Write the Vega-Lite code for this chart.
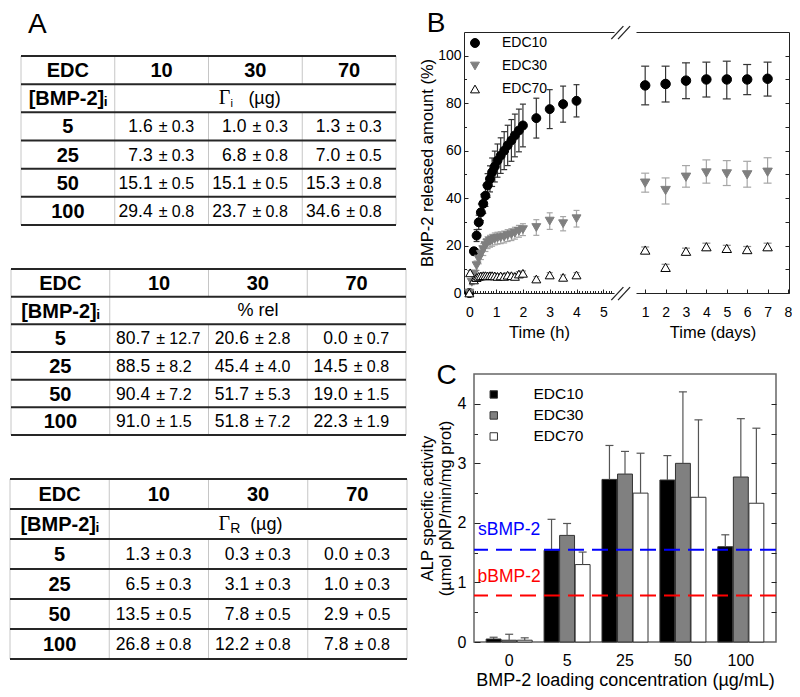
{
  "$schema": "https://vega.github.io/schema/vega-lite/v6.json",
  "background": "white",
  "padding": {"left": 9, "top": 10, "right": 0, "bottom": 0},
  "config": {
    "font": "Liberation Sans",
    "view": {"stroke": null},
    "axis": {"grid": false, "labelColor": "#000", "titleColor": "#000", "titleFontWeight": "normal", "domainColor": "#222", "tickColor": "#222", "labelFont": "Liberation Sans", "titleFont": "Liberation Sans"},
    "title": {"fontWeight": "normal", "color": "#000", "font": "Liberation Sans"},
    "text": {"color": "#000"}
  },
  "datasets": {
    "hgrid": [{"y": 0}, {"y": 1}, {"y": 2}, {"y": 3}, {"y": 4}, {"y": 5}, {"y": 6}],
    "vgrid": [{"x": 0, "y": 0, "y2": 6}, {"x": 1, "y": 0, "y2": 6}, {"x": 2, "y": 0, "y2": 1}, {"x": 2, "y": 2, "y2": 6}, {"x": 3, "y": 0, "y2": 1}, {"x": 3, "y": 2, "y2": 6}, {"x": 4, "y": 0, "y2": 6}],
    "tlab": [
      {"c": 0.5, "r": 0.5, "s": "EDC"}, {"c": 1.5, "r": 0.5, "s": "10"}, {"c": 2.5, "r": 0.5, "s": "30"}, {"c": 3.5, "r": 0.5, "s": "70"},
      {"c": 0.5, "r": 1.5, "s": "[BMP-2]ᵢ"}, {"c": 0.5, "r": 2.5, "s": "5"}, {"c": 0.5, "r": 3.5, "s": "25"}, {"c": 0.5, "r": 4.5, "s": "50"}, {"c": 0.5, "r": 5.5, "s": "100"}
    ],
    "tv1": [
      {"c": 1.5, "r": 2.5, "v": "1.6", "e": "± 0.3"}, {"c": 2.5, "r": 2.5, "v": "1.0", "e": "± 0.3"}, {"c": 3.5, "r": 2.5, "v": "1.3", "e": "± 0.3"},
      {"c": 1.5, "r": 3.5, "v": "7.3", "e": "± 0.3"}, {"c": 2.5, "r": 3.5, "v": "6.8", "e": "± 0.8"}, {"c": 3.5, "r": 3.5, "v": "7.0", "e": "± 0.5"},
      {"c": 1.5, "r": 4.5, "v": "15.1", "e": "± 0.5"}, {"c": 2.5, "r": 4.5, "v": "15.1", "e": "± 0.5"}, {"c": 3.5, "r": 4.5, "v": "15.3", "e": "± 0.8"},
      {"c": 1.5, "r": 5.5, "v": "29.4", "e": "± 0.8"}, {"c": 2.5, "r": 5.5, "v": "23.7", "e": "± 0.8"}, {"c": 3.5, "r": 5.5, "v": "34.6", "e": "± 0.8"}
    ],
    "tv2": [
      {"c": 1.5, "r": 2.5, "v": "80.7", "e": "± 12.7"}, {"c": 2.5, "r": 2.5, "v": "20.6", "e": "± 2.8"}, {"c": 3.5, "r": 2.5, "v": "0.0", "e": "± 0.7"},
      {"c": 1.5, "r": 3.5, "v": "88.5", "e": "± 8.2"}, {"c": 2.5, "r": 3.5, "v": "45.4", "e": "± 4.0"}, {"c": 3.5, "r": 3.5, "v": "14.5", "e": "± 0.8"},
      {"c": 1.5, "r": 4.5, "v": "90.4", "e": "± 7.2"}, {"c": 2.5, "r": 4.5, "v": "51.7", "e": "± 5.3"}, {"c": 3.5, "r": 4.5, "v": "19.0", "e": "± 1.5"},
      {"c": 1.5, "r": 5.5, "v": "91.0", "e": "± 1.5"}, {"c": 2.5, "r": 5.5, "v": "51.8", "e": "± 7.2"}, {"c": 3.5, "r": 5.5, "v": "22.3", "e": "± 1.9"}
    ],
    "tv3": [
      {"c": 1.5, "r": 2.5, "v": "1.3", "e": "± 0.3"}, {"c": 2.5, "r": 2.5, "v": "0.3", "e": "± 0.3"}, {"c": 3.5, "r": 2.5, "v": "0.0", "e": "± 0.3"},
      {"c": 1.5, "r": 3.5, "v": "6.5", "e": "± 0.3"}, {"c": 2.5, "r": 3.5, "v": "3.1", "e": "± 0.3"}, {"c": 3.5, "r": 3.5, "v": "1.0", "e": "± 0.3"},
      {"c": 1.5, "r": 4.5, "v": "13.5", "e": "± 0.5"}, {"c": 2.5, "r": 4.5, "v": "7.8", "e": "± 0.5"}, {"c": 3.5, "r": 4.5, "v": "2.9", "e": "+ 0.5"},
      {"c": 1.5, "r": 5.5, "v": "26.8", "e": "± 0.8"}, {"c": 2.5, "r": 5.5, "v": "12.2", "e": "± 0.8"}, {"c": 3.5, "r": 5.5, "v": "7.8", "e": "± 0.8"}
    ],
    "bh": [
      {"t": 0, "s": "EDC10", "v": 0, "lo": 0, "hi": 0},
      {"t": 0.17, "s": "EDC10", "v": 17.6, "lo": 16.1, "hi": 19.1},
      {"t": 0.27, "s": "EDC10", "v": 24.2, "lo": 21.7, "hi": 26.7},
      {"t": 0.35, "s": "EDC10", "v": 29.8, "lo": 26.8, "hi": 32.8},
      {"t": 0.43, "s": "EDC10", "v": 34.0, "lo": 30.5, "hi": 37.5},
      {"t": 0.52, "s": "EDC10", "v": 37.6, "lo": 33.6, "hi": 41.6},
      {"t": 0.6, "s": "EDC10", "v": 41.0, "lo": 36.5, "hi": 45.5},
      {"t": 0.68, "s": "EDC10", "v": 45.3, "lo": 40.3, "hi": 50.3},
      {"t": 0.77, "s": "EDC10", "v": 48.1, "lo": 42.6, "hi": 53.6},
      {"t": 0.85, "s": "EDC10", "v": 50.9, "lo": 44.9, "hi": 56.9},
      {"t": 0.95, "s": "EDC10", "v": 53.3, "lo": 46.8, "hi": 59.8},
      {"t": 1.05, "s": "EDC10", "v": 55.8, "lo": 48.8, "hi": 62.8},
      {"t": 1.17, "s": "EDC10", "v": 57.9, "lo": 50.4, "hi": 65.4},
      {"t": 1.3, "s": "EDC10", "v": 60.0, "lo": 52.0, "hi": 68.0},
      {"t": 1.43, "s": "EDC10", "v": 62.2, "lo": 53.7, "hi": 70.7},
      {"t": 1.57, "s": "EDC10", "v": 64.3, "lo": 55.5, "hi": 73.1},
      {"t": 1.7, "s": "EDC10", "v": 66.4, "lo": 57.4, "hi": 75.4},
      {"t": 1.85, "s": "EDC10", "v": 68.5, "lo": 59.5, "hi": 77.5},
      {"t": 2.0, "s": "EDC10", "v": 70.6, "lo": 61.6, "hi": 79.6},
      {"t": 2.5, "s": "EDC10", "v": 73.7, "lo": 65.3, "hi": 82.1},
      {"t": 3.0, "s": "EDC10", "v": 77.5, "lo": 69.3, "hi": 85.7},
      {"t": 3.5, "s": "EDC10", "v": 79.6, "lo": 72.0, "hi": 87.2},
      {"t": 4.0, "s": "EDC10", "v": 81.0, "lo": 74.2, "hi": 87.8},
      {"t": 0, "s": "EDC30", "v": 0, "lo": 0, "hi": 0},
      {"t": 0.09, "s": "EDC30", "v": 4.5, "lo": 3.5, "hi": 5.5},
      {"t": 0.17, "s": "EDC30", "v": 8.0, "lo": 6.5, "hi": 9.5},
      {"t": 0.27, "s": "EDC30", "v": 11.5, "lo": 9.5, "hi": 13.5},
      {"t": 0.35, "s": "EDC30", "v": 14.3, "lo": 12.3, "hi": 16.3},
      {"t": 0.43, "s": "EDC30", "v": 16.3, "lo": 14.1, "hi": 18.5},
      {"t": 0.52, "s": "EDC30", "v": 18.3, "lo": 15.8, "hi": 20.8},
      {"t": 0.6, "s": "EDC30", "v": 20.0, "lo": 17.5, "hi": 22.5},
      {"t": 0.68, "s": "EDC30", "v": 21.2, "lo": 18.7, "hi": 23.7},
      {"t": 0.77, "s": "EDC30", "v": 21.8, "lo": 19.3, "hi": 24.3},
      {"t": 0.85, "s": "EDC30", "v": 22.2, "lo": 19.7, "hi": 24.7},
      {"t": 0.95, "s": "EDC30", "v": 22.8, "lo": 20.3, "hi": 25.3},
      {"t": 1.05, "s": "EDC30", "v": 23.1, "lo": 20.6, "hi": 25.6},
      {"t": 1.17, "s": "EDC30", "v": 23.3, "lo": 20.8, "hi": 25.8},
      {"t": 1.3, "s": "EDC30", "v": 23.6, "lo": 21.1, "hi": 26.1},
      {"t": 1.43, "s": "EDC30", "v": 24.2, "lo": 21.7, "hi": 26.7},
      {"t": 1.57, "s": "EDC30", "v": 24.6, "lo": 22.1, "hi": 27.1},
      {"t": 1.7, "s": "EDC30", "v": 25.2, "lo": 22.7, "hi": 27.7},
      {"t": 1.85, "s": "EDC30", "v": 26.0, "lo": 23.5, "hi": 28.5},
      {"t": 2.0, "s": "EDC30", "v": 26.7, "lo": 24.2, "hi": 29.2},
      {"t": 2.5, "s": "EDC30", "v": 27.6, "lo": 24.3, "hi": 30.9},
      {"t": 3.0, "s": "EDC30", "v": 30.3, "lo": 26.8, "hi": 33.8},
      {"t": 3.5, "s": "EDC30", "v": 29.2, "lo": 26.2, "hi": 32.2},
      {"t": 4.0, "s": "EDC30", "v": 31.3, "lo": 27.8, "hi": 34.8},
      {"t": 0, "s": "EDC70", "v": 0, "lo": 0, "hi": 0},
      {"t": 0.03, "s": "EDC70", "v": 8.5, "lo": 7.5, "hi": 9.5},
      {"t": 0.17, "s": "EDC70", "v": 5.5, "lo": 4.5, "hi": 6.5},
      {"t": 0.27, "s": "EDC70", "v": 6.5, "lo": 5.5, "hi": 7.5},
      {"t": 0.35, "s": "EDC70", "v": 7.0, "lo": 6.0, "hi": 8.0},
      {"t": 0.43, "s": "EDC70", "v": 7.2, "lo": 6.2, "hi": 8.2},
      {"t": 0.52, "s": "EDC70", "v": 7.3, "lo": 6.3, "hi": 8.3},
      {"t": 0.6, "s": "EDC70", "v": 7.3, "lo": 6.3, "hi": 8.3},
      {"t": 0.68, "s": "EDC70", "v": 7.2, "lo": 6.2, "hi": 8.2},
      {"t": 0.77, "s": "EDC70", "v": 7.3, "lo": 6.3, "hi": 8.3},
      {"t": 0.85, "s": "EDC70", "v": 7.3, "lo": 6.3, "hi": 8.3},
      {"t": 0.95, "s": "EDC70", "v": 7.2, "lo": 6.2, "hi": 8.2},
      {"t": 1.05, "s": "EDC70", "v": 7.0, "lo": 6.0, "hi": 8.0},
      {"t": 1.17, "s": "EDC70", "v": 7.2, "lo": 6.2, "hi": 8.2},
      {"t": 1.3, "s": "EDC70", "v": 7.0, "lo": 6.0, "hi": 8.0},
      {"t": 1.43, "s": "EDC70", "v": 7.5, "lo": 6.5, "hi": 8.5},
      {"t": 1.57, "s": "EDC70", "v": 7.3, "lo": 6.3, "hi": 8.3},
      {"t": 1.7, "s": "EDC70", "v": 7.0, "lo": 6.0, "hi": 8.0},
      {"t": 1.85, "s": "EDC70", "v": 8.0, "lo": 7.0, "hi": 9.0},
      {"t": 2.0, "s": "EDC70", "v": 8.3, "lo": 7.3, "hi": 9.3},
      {"t": 2.5, "s": "EDC70", "v": 5.9, "lo": 4.9, "hi": 6.9},
      {"t": 3.0, "s": "EDC70", "v": 7.6, "lo": 6.6, "hi": 8.6},
      {"t": 3.5, "s": "EDC70", "v": 6.6, "lo": 5.6, "hi": 7.6},
      {"t": 4.0, "s": "EDC70", "v": 7.6, "lo": 6.6, "hi": 8.6}
    ],
    "bd": [
      {"d": 1, "s": "EDC10", "v": 87.5, "lo": 79.3, "hi": 95.6},
      {"d": 2, "s": "EDC10", "v": 88.1, "lo": 80.5, "hi": 95.6},
      {"d": 3, "s": "EDC10", "v": 89.5, "lo": 81.9, "hi": 97.0},
      {"d": 4, "s": "EDC10", "v": 90.0, "lo": 82.6, "hi": 97.3},
      {"d": 5, "s": "EDC10", "v": 90.0, "lo": 81.8, "hi": 97.7},
      {"d": 6, "s": "EDC10", "v": 90.0, "lo": 83.6, "hi": 96.3},
      {"d": 7, "s": "EDC10", "v": 90.3, "lo": 83.0, "hi": 97.3},
      {"d": 1, "s": "EDC30", "v": 46.3, "lo": 42.5, "hi": 50.5},
      {"d": 2, "s": "EDC30", "v": 43.2, "lo": 37.5, "hi": 48.5},
      {"d": 3, "s": "EDC30", "v": 48.8, "lo": 44.6, "hi": 53.7},
      {"d": 4, "s": "EDC30", "v": 50.6, "lo": 46.3, "hi": 56.1},
      {"d": 5, "s": "EDC30", "v": 50.2, "lo": 45.3, "hi": 55.8},
      {"d": 6, "s": "EDC30", "v": 49.8, "lo": 44.6, "hi": 55.5},
      {"d": 7, "s": "EDC30", "v": 50.9, "lo": 46.3, "hi": 57.0},
      {"d": 1, "s": "EDC70", "v": 18.1, "lo": 16.8, "hi": 19.4},
      {"d": 2, "s": "EDC70", "v": 10.8, "lo": 9.5, "hi": 12.1},
      {"d": 3, "s": "EDC70", "v": 17.6, "lo": 16.3, "hi": 18.9},
      {"d": 4, "s": "EDC70", "v": 19.5, "lo": 18.0, "hi": 21.0},
      {"d": 5, "s": "EDC70", "v": 18.8, "lo": 17.5, "hi": 20.1},
      {"d": 6, "s": "EDC70", "v": 18.3, "lo": 17.0, "hi": 19.6},
      {"d": 7, "s": "EDC70", "v": 19.5, "lo": 18.0, "hi": 21.0}
    ],
    "c": [
      {"conc": "0", "s": "EDC10", "v": 0.05, "hi": 0.08},
      {"conc": "0", "s": "EDC30", "v": 0.03, "hi": 0.13},
      {"conc": "0", "s": "EDC70", "v": 0.03, "hi": 0.07},
      {"conc": "5", "s": "EDC10", "v": 1.54, "hi": 2.06},
      {"conc": "5", "s": "EDC30", "v": 1.79, "hi": 1.99},
      {"conc": "5", "s": "EDC70", "v": 1.30, "hi": 1.51},
      {"conc": "25", "s": "EDC10", "v": 2.73, "hi": 3.30},
      {"conc": "25", "s": "EDC30", "v": 2.82, "hi": 3.20},
      {"conc": "25", "s": "EDC70", "v": 2.50, "hi": 3.17},
      {"conc": "50", "s": "EDC10", "v": 2.72, "hi": 3.13},
      {"conc": "50", "s": "EDC30", "v": 3.00, "hi": 4.20},
      {"conc": "50", "s": "EDC70", "v": 2.43, "hi": 3.73},
      {"conc": "100", "s": "EDC10", "v": 1.60, "hi": 1.80},
      {"conc": "100", "s": "EDC30", "v": 2.77, "hi": 3.75},
      {"conc": "100", "s": "EDC70", "v": 2.33, "hi": 3.59}
    ]
  },
  "resolve": {"scale": {"color": "independent", "fill": "independent", "stroke": "independent", "shape": "independent"}},
  "spacing": 10,
  "hconcat": [
    {
      "vconcat": [
        {
          "width": 375, "height": 193,
          "title": {"text": "A", "anchor": "start", "fontSize": 28, "offset": -7, "dx": 8},
          "layer": [
            {"data": {"name": "vgrid"}, "mark": {"type": "rule", "stroke": "#c6c6c6", "strokeWidth": 1},
             "encoding": {"x": {"field": "x", "type": "quantitative", "scale": {"domain": [0, 4], "nice": false, "zero": false}, "axis": null},
                          "y": {"field": "y", "type": "quantitative", "scale": {"domain": [-0.852, 6], "reverse": true, "nice": false, "zero": false}, "axis": null},
                          "y2": {"field": "y2"}}},
            {"data": {"name": "hgrid"}, "mark": {"type": "rule", "stroke": "#262626", "strokeWidth": 2},
             "encoding": {"y": {"field": "y", "type": "quantitative", "axis": null}, "x": {"datum": 0, "type": "quantitative", "axis": null}, "x2": {"datum": 4}}},
            {"data": {"name": "tlab"}, "mark": {"type": "text", "fontWeight": "bold", "fontSize": 20, "baseline": "middle", "dy": 1},
             "encoding": {"x": {"field": "c", "type": "quantitative", "axis": null}, "y": {"field": "r", "type": "quantitative", "axis": null}, "text": {"field": "s", "type": "nominal"}}},
            {"data": {"name": "tv1"}, "mark": {"type": "text", "fontSize": 17.5, "align": "right", "baseline": "alphabetic", "dx": -9, "dy": 6},
             "encoding": {"x": {"field": "c", "type": "quantitative", "axis": null}, "y": {"field": "r", "type": "quantitative", "axis": null}, "text": {"field": "v", "type": "nominal"}}},
            {"data": {"name": "tv1"}, "mark": {"type": "text", "fontSize": 16, "align": "left", "baseline": "alphabetic", "dx": -3, "dy": 6},
             "encoding": {"x": {"field": "c", "type": "quantitative", "axis": null}, "y": {"field": "r", "type": "quantitative", "axis": null}, "text": {"field": "e", "type": "nominal"}}},
            {"data": {"values": [{}]}, "mark": {"type": "text", "font": "Liberation Serif", "fontSize": 20, "align": "right", "baseline": "alphabetic", "dx": -25, "dy": 6},
             "encoding": {"x": {"datum": 2.5, "type": "quantitative", "axis": null}, "y": {"datum": 1.5, "type": "quantitative", "axis": null}, "text": {"value": "Γ"}}},
            {"data": {"values": [{}]}, "mark": {"type": "text", "fontSize": 11, "align": "left", "baseline": "alphabetic", "dx": -25, "dy": 9},
             "encoding": {"x": {"datum": 2.5, "type": "quantitative", "axis": null}, "y": {"datum": 1.5, "type": "quantitative", "axis": null}, "text": {"value": "i"}}},
            {"data": {"values": [{}]}, "mark": {"type": "text", "fontSize": 18, "align": "left", "baseline": "alphabetic", "dx": -7, "dy": 6},
             "encoding": {"x": {"datum": 2.5, "type": "quantitative", "axis": null}, "y": {"datum": 1.5, "type": "quantitative", "axis": null}, "text": {"value": "(µg)"}}}
          ]
        },
        {
          "width": 395, "height": 166,
          "layer": [
            {"data": {"name": "vgrid"}, "mark": {"type": "rule", "stroke": "#c6c6c6", "strokeWidth": 1},
             "encoding": {"x": {"field": "x", "type": "quantitative", "scale": {"domain": [0, 4], "nice": false, "zero": false}, "axis": null},
                          "y": {"field": "y", "type": "quantitative", "scale": {"domain": [0, 6], "reverse": true, "nice": false, "zero": false}, "axis": null},
                          "y2": {"field": "y2"}}},
            {"data": {"name": "hgrid"}, "mark": {"type": "rule", "stroke": "#262626", "strokeWidth": 2},
             "encoding": {"y": {"field": "y", "type": "quantitative", "axis": null}, "x": {"datum": 0, "type": "quantitative", "axis": null}, "x2": {"datum": 4}}},
            {"data": {"name": "tlab"}, "mark": {"type": "text", "fontWeight": "bold", "fontSize": 20, "baseline": "middle", "dy": 1},
             "encoding": {"x": {"field": "c", "type": "quantitative", "axis": null}, "y": {"field": "r", "type": "quantitative", "axis": null}, "text": {"field": "s", "type": "nominal"}}},
            {"data": {"name": "tv2"}, "mark": {"type": "text", "fontSize": 17.5, "align": "right", "baseline": "alphabetic", "dx": -9, "dy": 6},
             "encoding": {"x": {"field": "c", "type": "quantitative", "axis": null}, "y": {"field": "r", "type": "quantitative", "axis": null}, "text": {"field": "v", "type": "nominal"}}},
            {"data": {"name": "tv2"}, "mark": {"type": "text", "fontSize": 16, "align": "left", "baseline": "alphabetic", "dx": -3, "dy": 6},
             "encoding": {"x": {"field": "c", "type": "quantitative", "axis": null}, "y": {"field": "r", "type": "quantitative", "axis": null}, "text": {"field": "e", "type": "nominal"}}},
            {"data": {"values": [{}]}, "mark": {"type": "text", "fontSize": 18, "align": "center", "baseline": "middle"},
             "encoding": {"x": {"datum": 2.5, "type": "quantitative", "axis": null}, "y": {"datum": 1.5, "type": "quantitative", "axis": null}, "text": {"value": "% rel"}}}
          ]
        },
        {
          "width": 397, "height": 180,
          "layer": [
            {"data": {"name": "vgrid"}, "mark": {"type": "rule", "stroke": "#c6c6c6", "strokeWidth": 1},
             "encoding": {"x": {"field": "x", "type": "quantitative", "scale": {"domain": [0, 4], "nice": false, "zero": false}, "axis": null},
                          "y": {"field": "y", "type": "quantitative", "scale": {"domain": [0, 6], "reverse": true, "nice": false, "zero": false}, "axis": null},
                          "y2": {"field": "y2"}}},
            {"data": {"name": "hgrid"}, "mark": {"type": "rule", "stroke": "#262626", "strokeWidth": 2},
             "encoding": {"y": {"field": "y", "type": "quantitative", "axis": null}, "x": {"datum": 0, "type": "quantitative", "axis": null}, "x2": {"datum": 4}}},
            {"data": {"name": "tlab"}, "mark": {"type": "text", "fontWeight": "bold", "fontSize": 20, "baseline": "middle", "dy": 1},
             "encoding": {"x": {"field": "c", "type": "quantitative", "axis": null}, "y": {"field": "r", "type": "quantitative", "axis": null}, "text": {"field": "s", "type": "nominal"}}},
            {"data": {"name": "tv3"}, "mark": {"type": "text", "fontSize": 17.5, "align": "right", "baseline": "alphabetic", "dx": -9, "dy": 6},
             "encoding": {"x": {"field": "c", "type": "quantitative", "axis": null}, "y": {"field": "r", "type": "quantitative", "axis": null}, "text": {"field": "v", "type": "nominal"}}},
            {"data": {"name": "tv3"}, "mark": {"type": "text", "fontSize": 16, "align": "left", "baseline": "alphabetic", "dx": -3, "dy": 6},
             "encoding": {"x": {"field": "c", "type": "quantitative", "axis": null}, "y": {"field": "r", "type": "quantitative", "axis": null}, "text": {"field": "e", "type": "nominal"}}},
            {"data": {"values": [{}]}, "mark": {"type": "text", "font": "Liberation Serif", "fontSize": 20, "align": "right", "baseline": "alphabetic", "dx": -28, "dy": 6},
             "encoding": {"x": {"datum": 2.5, "type": "quantitative", "axis": null}, "y": {"datum": 1.5, "type": "quantitative", "axis": null}, "text": {"value": "Γ"}}},
            {"data": {"values": [{}]}, "mark": {"type": "text", "fontSize": 14, "align": "left", "baseline": "alphabetic", "dx": -28, "dy": 9},
             "encoding": {"x": {"datum": 2.5, "type": "quantitative", "axis": null}, "y": {"datum": 1.5, "type": "quantitative", "axis": null}, "text": {"value": "R"}}},
            {"data": {"values": [{}]}, "mark": {"type": "text", "fontSize": 18, "align": "left", "baseline": "alphabetic", "dx": -8, "dy": 6},
             "encoding": {"x": {"datum": 2.5, "type": "quantitative", "axis": null}, "y": {"datum": 1.5, "type": "quantitative", "axis": null}, "text": {"value": "(µg)"}}}
          ]
        }
      ],
      "bounds": "flush",
      "spacing": 44,
      "center": true
    },
    {
      "resolve": {"scale": {"color": "independent", "fill": "independent", "stroke": "independent", "shape": "independent"}},
      "spacing": 20,
      "vconcat": [
        {
          "bounds": "flush",
          "spacing": 22,
          "resolve": {"scale": {"color": "independent", "fill": "independent", "stroke": "independent", "shape": "independent"}},
          "hconcat": [
            {
              "width": 150, "height": 261,
              "title": {"text": "B", "anchor": "start", "fontSize": 28, "offset": -13, "dx": 7},
              "data": {"name": "bh"},
              "resolve": {"axis": {"x": "independent", "y": "independent"}},
              "layer": [
                {"mark": {"type": "rule", "strokeWidth": 1.2},
                 "encoding": {
                   "x": {"field": "t", "type": "quantitative", "scale": {"domain": [-0.2, 5.4], "nice": false, "zero": false},
                         "axis": {"orient": "bottom", "values": [0, 1, 2, 3, 4, 5], "tickSize": -4, "labelFontSize": 14, "labelPadding": 16, "labelFlush": false, "title": "Time (h)", "titleFontSize": 16.5, "titlePadding": 5}},
                   "y": {"field": "lo", "type": "quantitative", "scale": {"domain": [0, 110], "nice": false, "zero": false},
                         "axis": {"orient": "left", "values": [0, 20, 40, 60, 80, 100], "tickSize": -4, "labelFontSize": 14, "labelPadding": 7, "title": "BMP-2 released amount (%)", "titleFontSize": 16.5, "titlePadding": 2}},
                   "y2": {"field": "hi"},
                   "color": {"field": "s", "type": "nominal", "scale": {"domain": ["EDC10", "EDC30", "EDC70", "none"], "range": ["#333333", "#a6a6a6", "#8c8c8c", "#000000"]}, "legend": null}
                 }},
                {"mark": {"type": "tick", "orient": "horizontal", "size": 6, "thickness": 1.2, "opacity": 1},
                 "encoding": {
                   "x": {"field": "t", "type": "quantitative",
                         "axis": {"orient": "bottom", "values": [0.1, 0.2, 0.3, 0.4, 0.5, 0.6, 0.7, 0.8, 0.9, 1.1, 1.2, 1.3, 1.4, 1.5, 1.6, 1.7, 1.8, 1.9, 2.1, 2.2, 2.3, 2.4, 2.5, 2.6, 2.7, 2.8, 2.9, 3.1, 3.2, 3.3, 3.4, 3.5, 3.6, 3.7, 3.8, 3.9, 4.1, 4.2, 4.3, 4.4, 4.5, 4.6, 4.7, 4.8, 4.9, 5.1, 5.2, 5.3], "tickSize": -2.5, "labels": false, "domain": false, "title": null}},
                   "y": {"field": "hi", "type": "quantitative",
                         "axis": {"orient": "left", "values": [10, 30, 50, 70, 90], "tickSize": -2.5, "labels": false, "domain": false, "title": null}},
                   "color": {"field": "s", "type": "nominal", "legend": null}
                 }},
                {"mark": {"type": "tick", "orient": "horizontal", "size": 6, "thickness": 1.2, "opacity": 1},
                 "encoding": {
                   "x": {"field": "t", "type": "quantitative", "axis": {"orient": "top", "labels": false, "ticks": false, "domain": true, "title": null}},
                   "y": {"field": "lo", "type": "quantitative", "axis": null},
                   "color": {"field": "s", "type": "nominal", "legend": null}
                 }},
                {"mark": {"type": "point", "opacity": 1, "strokeWidth": 1, "size": 80},
                 "encoding": {
                   "x": {"field": "t", "type": "quantitative", "axis": null},
                   "y": {"field": "v", "type": "quantitative", "axis": null},
                   "shape": {"field": "s", "type": "nominal", "scale": {"domain": ["EDC10", "EDC30", "EDC70"], "range": ["circle", "triangle-down", "triangle-up"]},
                             "legend": {"title": null, "orient": "none", "legendX": 4, "legendY": 4, "padding": 0, "labelFontSize": 14, "labelOffset": 20, "rowPadding": 9, "symbolSize": 80, "symbolStrokeWidth": 1}},
                   "fill": {"field": "s", "type": "nominal", "scale": {"domain": ["EDC10", "EDC30", "EDC70"], "range": ["#000000", "#7f7f7f", "#ffffff"]},
                            "legend": {"title": null, "orient": "none", "legendX": 4, "legendY": 4, "padding": 0, "labelFontSize": 14, "labelOffset": 20, "rowPadding": 9, "symbolSize": 80, "symbolStrokeWidth": 1}},
                   "stroke": {"field": "s", "type": "nominal", "scale": {"domain": ["EDC10", "EDC30", "EDC70"], "range": ["#000000", "#7f7f7f", "#000000"]},
                              "legend": {"title": null, "orient": "none", "legendX": 4, "legendY": 4, "padding": 0, "labelFontSize": 14, "labelOffset": 20, "rowPadding": 9, "symbolSize": 80, "symbolStrokeWidth": 1}}
                 }},
                {"data": {"values": [{}]}, "mark": {"type": "rule", "strokeWidth": 1.3, "color": "#222"},
                 "encoding": {"x": {"datum": 5.3, "type": "quantitative", "axis": null}, "x2": {"datum": 5.75}, "y": {"datum": 107, "type": "quantitative", "axis": null}, "y2": {"datum": 112.5}}},
                {"data": {"values": [{}]}, "mark": {"type": "rule", "strokeWidth": 1.3, "color": "#222"},
                 "encoding": {"x": {"datum": 5.55, "type": "quantitative", "axis": null}, "x2": {"datum": 6.0}, "y": {"datum": 107, "type": "quantitative", "axis": null}, "y2": {"datum": 112.5}}},
                {"data": {"values": [{}]}, "mark": {"type": "rule", "strokeWidth": 1.3, "color": "#222"},
                 "encoding": {"x": {"datum": 5.3, "type": "quantitative", "axis": null}, "x2": {"datum": 5.75}, "y": {"datum": -3, "type": "quantitative", "axis": null}, "y2": {"datum": 2.5}}},
                {"data": {"values": [{}]}, "mark": {"type": "rule", "strokeWidth": 1.3, "color": "#222"},
                 "encoding": {"x": {"datum": 5.55, "type": "quantitative", "axis": null}, "x2": {"datum": 6.0}, "y": {"datum": -3, "type": "quantitative", "axis": null}, "y2": {"datum": 2.5}}}
              ]
            },
            {
              "width": 153, "height": 261,
              "data": {"name": "bd"},
              "resolve": {"axis": {"x": "independent", "y": "independent"}},
              "layer": [
                {"mark": {"type": "rule", "strokeWidth": 1.2},
                 "encoding": {
                   "x": {"field": "d", "type": "quantitative", "scale": {"domain": [0.55, 8.05], "nice": false, "zero": false},
                         "axis": {"orient": "bottom", "values": [1, 2, 3, 4, 5, 6, 7, 8], "tickSize": -4, "labelFontSize": 14, "labelPadding": 16, "labelFlush": false, "title": "Time (days)", "titleFontSize": 16.5, "titlePadding": 5}},
                   "y": {"field": "lo", "type": "quantitative", "scale": {"domain": [0, 110], "nice": false, "zero": false},
                         "axis": {"orient": "right", "values": [0, 10, 20, 30, 40, 50, 60, 70, 80, 90, 100], "tickSize": -4, "labels": false, "title": null}},
                   "y2": {"field": "hi"},
                   "color": {"field": "s", "type": "nominal", "scale": {"domain": ["EDC10", "EDC30", "EDC70", "none"], "range": ["#333333", "#a6a6a6", "#8c8c8c", "#000000"]}, "legend": null}
                 }},
                {"mark": {"type": "tick", "orient": "horizontal", "size": 8, "thickness": 1.2, "opacity": 1},
                 "encoding": {
                   "x": {"field": "d", "type": "quantitative", "axis": {"orient": "top", "labels": false, "ticks": false, "domain": true, "title": null}},
                   "y": {"field": "hi", "type": "quantitative", "axis": null},
                   "color": {"field": "s", "type": "nominal", "legend": null}
                 }},
                {"mark": {"type": "tick", "orient": "horizontal", "size": 8, "thickness": 1.2, "opacity": 1},
                 "encoding": {
                   "x": {"field": "d", "type": "quantitative", "axis": null},
                   "y": {"field": "lo", "type": "quantitative", "axis": null},
                   "color": {"field": "s", "type": "nominal", "legend": null}
                 }},
                {"mark": {"type": "point", "opacity": 1, "strokeWidth": 1, "size": 90},
                 "encoding": {
                   "x": {"field": "d", "type": "quantitative", "axis": null},
                   "y": {"field": "v", "type": "quantitative", "axis": null},
                   "shape": {"field": "s", "type": "nominal", "scale": {"domain": ["EDC10", "EDC30", "EDC70"], "range": ["circle", "triangle-down", "triangle-up"]}, "legend": null},
                   "fill": {"field": "s", "type": "nominal", "scale": {"domain": ["EDC10", "EDC30", "EDC70"], "range": ["#000000", "#7f7f7f", "#ffffff"]}, "legend": null},
                   "stroke": {"field": "s", "type": "nominal", "scale": {"domain": ["EDC10", "EDC30", "EDC70"], "range": ["#000000", "#7f7f7f", "#000000"]}, "legend": null}
                 }}
              ]
            }
          ]
        },
        {
          "bounds": "flush",
          "spacing": 9,
          "resolve": {"scale": {"color": "independent", "fill": "independent", "stroke": "independent", "shape": "independent"}},
          "hconcat": [
            {"width": 1, "height": 1, "data": {"values": []}, "mark": "point"},
            {
              "width": 302, "height": 268,
              "view": {"stroke": "#666", "strokeWidth": 1.5},
              "title": {"text": "C", "anchor": "start", "fontSize": 28, "offset": -16, "dx": 17},
              "data": {"name": "c"},
              "resolve": {"axis": {"x": "independent", "y": "independent"}},
              "layer": [
                {"mark": {"type": "bar", "stroke": "#333", "strokeWidth": 1},
                 "encoding": {
                   "x": {"field": "conc", "type": "nominal", "scale": {"domain": ["0", "5", "25", "50", "100"], "paddingInner": 0.2055, "paddingOuter": 0.21},
                         "axis": {"orient": "bottom", "labelAngle": 0, "labelFontSize": 16, "ticks": false, "domain": false, "labelPadding": 10, "title": "BMP-2 loading concentration (µg/mL)", "titleFontSize": 18, "titlePadding": 3}},
                   "xOffset": {"field": "s", "type": "nominal", "scale": {"domain": ["EDC10", "EDC30", "EDC70"], "paddingInner": 0.04}},
                   "y": {"field": "v", "type": "quantitative", "scale": {"domain": [0, 4.5], "nice": false},
                         "axis": {"orient": "left", "values": [0, 1, 2, 3, 4], "tickSize": -6, "labelFontSize": 16, "labelPadding": 14, "domain": false, "title": ["ALP specific activity", "(µmol pNP/min/mg prot)"], "titleFontSize": 16.5, "titlePadding": 3.5, "titleLineHeight": 18}},
                   "fill": {"field": "s", "type": "nominal", "scale": {"domain": ["EDC10", "EDC30", "EDC70"], "range": ["#000000", "#808080", "#ffffff"]},
                            "legend": {"title": null, "orient": "none", "legendX": 12, "legendY": 12.7, "padding": 0, "symbolType": "square", "symbolSize": 55, "symbolStrokeColor": "#333", "symbolStrokeWidth": 1, "labelFontSize": 15.5, "labelOffset": 32, "rowPadding": 4}}
                 }},
                {"mark": {"type": "rule", "color": "#555", "strokeWidth": 1.2},
                 "encoding": {
                   "x": {"field": "conc", "type": "nominal", "axis": null},
                   "xOffset": {"field": "s", "type": "nominal"},
                   "y": {"field": "v", "type": "quantitative", "axis": {"orient": "left", "values": [0.5, 1.5, 2.5, 3.5], "tickSize": -3.5, "labels": false, "domain": false, "title": null}},
                   "y2": {"field": "hi"}
                 }},
                {"mark": {"type": "tick", "orient": "horizontal", "color": "#555", "size": 8, "thickness": 1.2, "opacity": 1},
                 "encoding": {
                   "x": {"field": "conc", "type": "nominal", "axis": null},
                   "xOffset": {"field": "s", "type": "nominal"},
                   "y": {"field": "hi", "type": "quantitative", "axis": {"orient": "right", "values": [0.5, 1, 1.5, 2, 2.5, 3, 3.5, 4], "tickSize": -5, "labels": false, "domain": false, "title": null}}
                 }},
                {"data": {"values": [{}]}, "mark": {"type": "rule", "color": "#0000ff", "strokeWidth": 2, "strokeDash": [16, 8]},
                 "encoding": {"y": {"datum": 1.55, "type": "quantitative", "axis": null}}},
                {"data": {"values": [{}]}, "mark": {"type": "rule", "color": "#ff0000", "strokeWidth": 2, "strokeDash": [16, 8]},
                 "encoding": {"y": {"datum": 0.78, "type": "quantitative", "axis": null}}},
                {"data": {"values": [{}]}, "mark": {"type": "text", "color": "#0000ff", "fontSize": 17.5, "baseline": "middle"},
                 "encoding": {"x": {"datum": "0", "type": "nominal", "axis": null}, "y": {"datum": 1.88, "type": "quantitative", "axis": null}, "text": {"value": "sBMP-2"}}},
                {"data": {"values": [{}]}, "mark": {"type": "text", "color": "#ff0000", "fontSize": 17.5, "baseline": "middle"},
                 "encoding": {"x": {"datum": "0", "type": "nominal", "axis": null}, "y": {"datum": 1.09, "type": "quantitative", "axis": null}, "text": {"value": "bBMP-2"}}}
              ]
            }
          ]
        }
      ]
    }
  ]
}
